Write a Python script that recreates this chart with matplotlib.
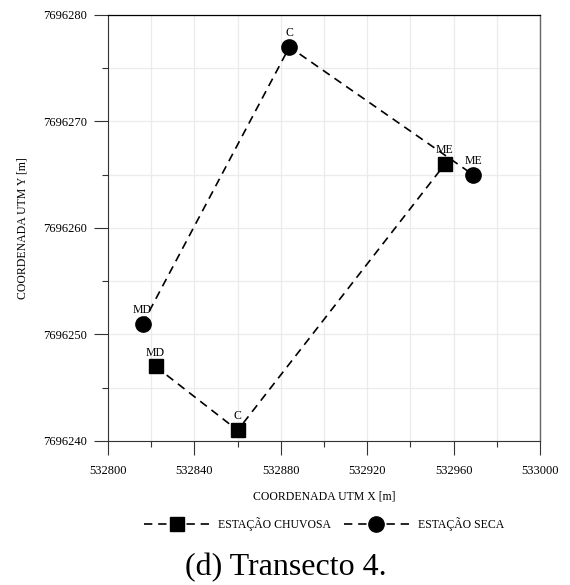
import matplotlib
matplotlib.use('Agg')
import matplotlib.pyplot as plt
from matplotlib.ticker import MultipleLocator, FormatStrFormatter

plt.rcParams['font.family'] = ['Liberation Serif', 'DejaVu Serif']

# pontos do transecto 4 (MD, C, ME)
rotulos = ['MD', 'C', 'ME']
chuvosa_x = [532822, 532860, 532956]
chuvosa_y = [7696247, 7696241, 7696266]
seca_x = [532816, 532884, 532969]
seca_y = [7696251, 7696277, 7696265]

fig = plt.figure(figsize=(5.7, 5.85), dpi=100)
ax = fig.add_axes([0.1895, 0.2462, 0.7579, 0.7282])

dash = (0, (5, 3.5))
ax.plot(chuvosa_x, chuvosa_y, color='black', linestyle=dash, lw=1.2,
        marker='s', markersize=10.5, label='ESTAÇÃO CHUVOSA', zorder=3)
ax.plot(seca_x, seca_y, color='black', linestyle=dash, lw=1.2,
        marker='o', markersize=11, label='ESTAÇÃO SECA', zorder=3)

# rotulos acima dos marcadores
for xs, ys in [(chuvosa_x, chuvosa_y), (seca_x, seca_y)]:
    for r, x, y in zip(rotulos, xs, ys):
        ax.annotate(r, (x, y), xytext=(0, 10), textcoords='offset points',
                    ha='center', va='center', fontsize=8.5, zorder=4)

ax.set_xlim(532800, 533000)
ax.set_ylim(7696240, 7696280)
ax.xaxis.set_major_locator(MultipleLocator(40))
ax.xaxis.set_minor_locator(MultipleLocator(20))
ax.yaxis.set_major_locator(MultipleLocator(10))
ax.yaxis.set_minor_locator(MultipleLocator(5))
ax.xaxis.set_major_formatter(FormatStrFormatter('%d'))
ax.yaxis.set_major_formatter(FormatStrFormatter('%d'))

ax.grid(True, which='both', color='#ebebeb', lw=0.9, zorder=0)
ax.set_axisbelow(True)

ax.tick_params(which='major', direction='out', length=10, width=0.8,
               labelsize=9, color='#333333', pad=5)
ax.tick_params(which='minor', direction='out', length=4.5, width=0.8,
               color='#333333')
ax.tick_params(axis='x', which='major', pad=7)

for s in ['left', 'bottom']:
    ax.spines[s].set_color('#333333')
    ax.spines[s].set_linewidth(0.8)
ax.spines['top'].set_color('black')
ax.spines['top'].set_linewidth(0.9)
ax.spines['right'].set_color('#666666')
ax.spines['right'].set_linewidth(1.0)

ax.set_xlabel('COORDENADA UTM X [m]', fontsize=8.5)
ax.set_ylabel('COORDENADA UTM Y [m]', fontsize=8.5)
ax.xaxis.set_label_coords(0.5, -0.117)
ax.yaxis.set_label_coords(-0.185, 0.5)

fig.legend(loc='center', bbox_to_anchor=(324 / 570, 0.104), ncol=2,
           frameon=False, fontsize=8.5, handlelength=5.5,
           handletextpad=0.75, columnspacing=1.1)

fig.text(0.5009, 0.029, '(d) Transecto 4.', fontsize=23,
         ha='center', va='center')

fig.savefig('out.png', dpi=100)
